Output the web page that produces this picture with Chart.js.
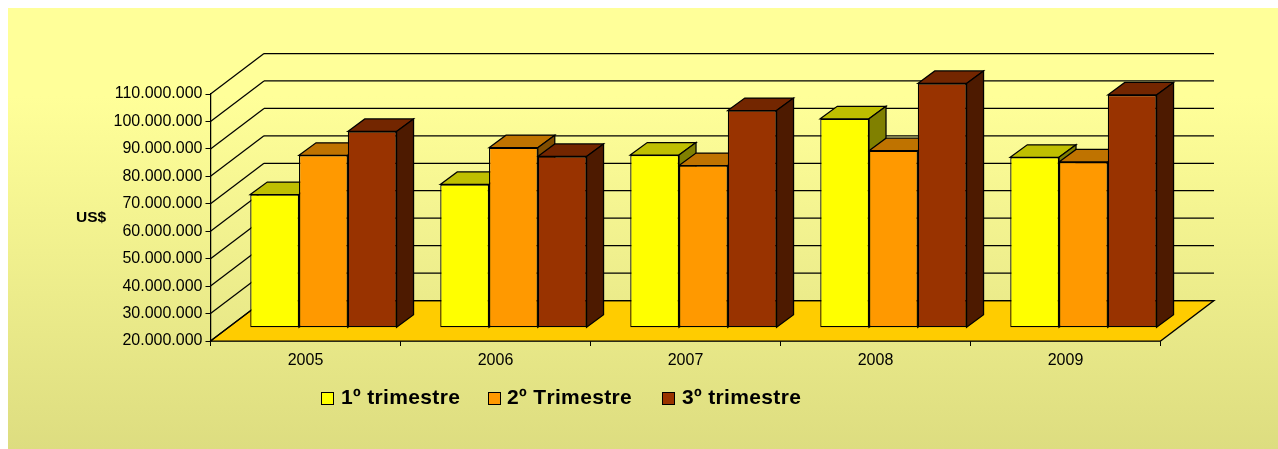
<!DOCTYPE html>
<html>
<head>
<meta charset="utf-8">
<style>
  body { margin: 0; background: #fff; }
  canvas { display: block; }
</style>
<script src="https://cdn.jsdelivr.net/npm/chart.js@4"></script>
</head>
<body>
<canvas id="chart" width="1278" height="449"></canvas>
<script>
const years = ['2005', '2006', '2007', '2008', '2009'];
const q1Name = '1º trimestre';
const q2Name = '2º Trimestre';
const q3Name = '3º trimestre';
const q1Values = [68500000, 72200000, 82900000, 96100000, 82100000];
const q2Values = [82800000, 85600000, 79100000, 84500000, 80400000];
const q3Values = [91500000, 82400000, 99100000, 109000000, 104800000];
const yMin = 20000000;
const yMax = 110000000;

const FONT = '"Liberation Sans", Arial, sans-serif';

// [front, top, side]
const q1Colors = ['#ffff00', '#bfbf00', '#808000'];
const q2Colors = ['#ff9900', '#bf7300', '#804d00'];
const q3Colors = ['#993300', '#732600', '#4d1a00'];

// how far the back wall and the bars sit behind the axis plane
const wall = { dx: 53.5, dy: -40.5 };
const barShift = { dx: 17.9, dy: -13.3 };
const barDepth = { dx: 17, dy: -12.5 };
const edge = 1.25;

const legendItems = [
    { x: 321, textX: 341, name: q1Name, color: q1Colors[0] },
    { x: 488, textX: 507, name: q2Name, color: q2Colors[0] },
    { x: 662, textX: 682, name: q3Name, color: q3Colors[0] }
];

const poly = (ctx, pts, fill) => {
    ctx.beginPath();
    pts.forEach((p, i) => i ? ctx.lineTo(p[0], p[1]) : ctx.moveTo(p[0], p[1]));
    ctx.closePath();
    if (fill) {
        ctx.fillStyle = fill;
        ctx.fill();
    }
    ctx.stroke();
};

const line = (ctx, x1, y1, x2, y2) => {
    ctx.beginPath();
    ctx.moveTo(x1, y1);
    ctx.lineTo(x2, y2);
    ctx.stroke();
};

const box3d = {
    id: 'box3d',
    beforeDraw(chart) {
        const { ctx, width, height } = chart;
        const g = ctx.createLinearGradient(0, 8, 0, height);
        g.addColorStop(0, '#ffff99');
        g.addColorStop(0.2, '#ffff99');
        g.addColorStop(1, '#dddd80');
        ctx.fillStyle = g;
        ctx.fillRect(8, 8, width - 8, height - 8);
    },
    beforeDatasetsDraw(chart) {
        const { ctx, chartArea: a, scales: { y } } = chart;
        ctx.save();
        ctx.strokeStyle = '#000';
        ctx.lineWidth = edge;

        // floor
        poly(ctx, [
            [a.left, a.bottom],
            [a.left + wall.dx, a.bottom + wall.dy],
            [a.right + wall.dx, a.bottom + wall.dy],
            [a.right, a.bottom]
        ], '#ffcc00');

        // side wall and back wall grid
        y.ticks.forEach(t => {
            const py = y.getPixelForValue(t.value);
            line(ctx, a.left, py, a.left + wall.dx, py + wall.dy);
            line(ctx, a.left + wall.dx, py + wall.dy, a.right + wall.dx, py + wall.dy);
        });

        // top and side faces, left to right, the fronts come later
        const metas = chart.getSortedVisibleDatasetMetas().slice().sort((p, q) => p.index - q.index);
        const colors = [q1Colors, q2Colors, q3Colors];
        ctx.translate(barShift.dx, barShift.dy);
        years.forEach((_, i) => {
            metas.forEach(meta => {
                const b = meta.data[i];
                const l = b.x - b.width / 2;
                const r = b.x + b.width / 2;
                const c = colors[meta.index];
                poly(ctx, [
                    [l, b.y],
                    [l + barDepth.dx, b.y + barDepth.dy],
                    [r + barDepth.dx, b.y + barDepth.dy],
                    [r, b.y]
                ], c[1]);
                poly(ctx, [
                    [r, b.y],
                    [r + barDepth.dx, b.y + barDepth.dy],
                    [r + barDepth.dx, b.base + barDepth.dy],
                    [r, b.base]
                ], c[2]);
            });
        });
        ctx.restore();
    },
    beforeDatasetDraw(chart) {
        chart.ctx.save();
        chart.ctx.translate(barShift.dx, barShift.dy);
    },
    afterDatasetDraw(chart) {
        chart.ctx.restore();
    },
    afterDraw(chart) {
        const { ctx } = chart;
        ctx.save();
        ctx.textBaseline = 'middle';
        ctx.fillStyle = '#000';

        ctx.font = 'bold 15.5px ' + FONT;
        ctx.fillText('US$', 76, 218);

        ctx.font = 'bold 21px ' + FONT;
        ctx.fontKerning = 'none';
        ctx.letterSpacing = '0.35px';
        legendItems.forEach(item => {
            ctx.fillStyle = item.color;
            ctx.strokeStyle = '#000';
            ctx.lineWidth = 1;
            ctx.fillRect(item.x, 392, 13, 13);
            ctx.strokeRect(item.x + 0.5, 392.5, 12, 12);
            ctx.fillStyle = '#000';
            ctx.fillText(item.name, item.textX, 398);
        });
        ctx.restore();
    }
};

const bars = (label, data, colors) => ({
    label,
    data,
    base: yMin,
    backgroundColor: colors[0],
    borderColor: '#000',
    borderWidth: edge,
    borderSkipped: false,
    clip: false
});

new Chart(document.getElementById('chart'), {
    type: 'bar',
    data: {
        labels: years,
        datasets: [
            bars(q1Name, q1Values, q1Colors),
            bars(q2Name, q2Values, q2Colors),
            bars(q3Name, q3Values, q3Colors)
        ]
    },
    options: {
        responsive: false,
        animation: false,
        layout: { padding: { left: 0, right: 117.5, top: 94, bottom: 0 } },
        categoryPercentage: 0.77,
        barPercentage: 1,
        plugins: {
            legend: { display: false },
            tooltip: { enabled: false }
        },
        scales: {
            x: {
                afterFit(scale) { scale.height = 108; },
                grid: { drawOnChartArea: false, tickLength: 5, color: '#000' },
                border: { color: '#000', width: edge },
                ticks: { color: '#000', font: { family: FONT, size: 16 }, padding: 5, maxRotation: 0 }
            },
            y: {
                min: yMin,
                max: yMax,
                afterFit(scale) { scale.width = 210.5; },
                grid: { drawOnChartArea: false, tickLength: 5, color: '#000' },
                border: { color: '#000', width: edge },
                ticks: {
                    stepSize: 10000000,
                    color: '#000',
                    padding: 3,
                    font: { family: FONT, size: 16 },
                    callback: v => v.toLocaleString('de-DE')
                }
            }
        }
    },
    plugins: [box3d]
});
</script>
</body>
</html>
